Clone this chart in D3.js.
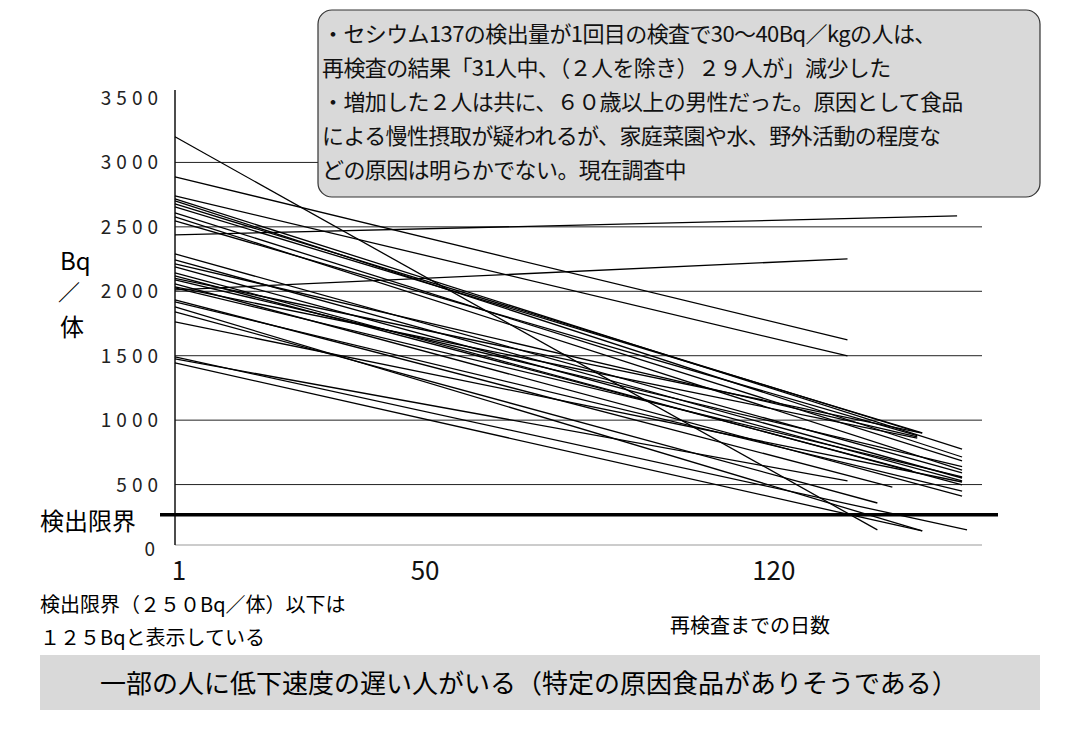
<!DOCTYPE html><html><head><meta charset="utf-8"><script src="https://cdn.jsdelivr.net/npm/d3@7"></script>
<style>body{margin:0;background:#fff}text{font-family:"Noto Sans CJK JP",sans-serif}</style></head><body>
<svg id="c" width="1081" height="756"></svg>
<script>
const startVals=[3199,2888,2741,2717,2702,2679,2655,2609,2578,2547,2438,2290,2244,2213,2189,2143,2120,2089,2057,2034,2026,2011,1933,1918,1879,1840,1762,1491,1475,1444,2100];
const endDays=[142,136,136,159,159,150,151,159,159,150,158,159,159,150,159,159,149,159,159,150,159,136,145,159,151,142,159,160,136,151,151];
const endVals=[148,1623,1498,776,714,908,901,683,613,880,2585,590,551,870,528,497,606,640,411,860,560,2252,481,450,140,357,520,148,528,140,900];
const yTicks=[0,500,1000,1500,2000,2500,3000,3500];
const xTicks=[1,50,120];
const limit=250;
const svg=d3.select("#c");
const x=d3.scaleLinear().domain([1,163]).range([175,982]);
const y=d3.scaleLinear().domain([0,3500]).range([549,98]);
// grid
svg.selectAll(".g").data(yTicks.filter(d=>d>0&&d<3500)).join("line").attr("x1",175).attr("x2",982).attr("y1",d=>y(d)).attr("y2",d=>y(d)).attr("stroke","#222").attr("stroke-width",1);
svg.append("line").attr("x1",175).attr("x2",982).attr("y1",y(0)-4).attr("y2",y(0)-4).attr("stroke","#999");
svg.append("line").attr("x1",175).attr("x2",175).attr("y1",90).attr("y2",y(0)-4).attr("stroke","#111").attr("stroke-width",1.5);
svg.selectAll(".yt").data(yTicks).join("text").attr("x",d=>d===0?160:163).attr("y",d=>y(d)+7).attr("text-anchor","end").attr("font-size",19).attr("letter-spacing",5).attr("fill","#222").text(d=>String(d));
svg.selectAll(".xt").data(xTicks).join("text").attr("x",d=>d===1?x(d)+4:x(d)+6).attr("y",580).attr("text-anchor","middle").attr("font-size",26).attr("fill","#111").text(d=>d);
// series lines
svg.selectAll(".s").data(startVals.map((v,i)=>[v,endDays[i],endVals[i]])).join("line")
 .attr("x1",x(1)).attr("y1",d=>y(d[0])).attr("x2",d=>x(d[1])).attr("y2",d=>y(d[2])).attr("stroke","#000").attr("stroke-width",1.3);
// detection limit
svg.append("line").attr("x1",160).attr("x2",998).attr("y1",y(limit)-2).attr("y2",y(limit)-2).attr("stroke","#000").attr("stroke-width",3.5);
svg.append("text").attr("x",40).attr("y",530).attr("font-size",24).text("検出限界");
svg.append("text").attr("x",60).attr("y",270).attr("font-size",24).text("Bq");
svg.append("text").attr("x",58).attr("y",300).attr("font-size",22).text("／");
svg.append("text").attr("x",60).attr("y",336).attr("font-size",24).text("体");
svg.append("text").attr("x",40).attr("y",612).attr("font-size",20).text("検出限界（２５０Bq／体）以下は");
svg.append("text").attr("x",40).attr("y",645).attr("font-size",20).text("１２５Bqと表示している");
svg.append("text").attr("x",670).attr("y",633).attr("font-size",20).text("再検査までの日数");
svg.append("rect").attr("x",40).attr("y",655).attr("width",1000).attr("height",55).attr("fill","#d9d9d9");
svg.append("text").attr("x",100).attr("y",693).attr("font-size",26).text("一部の人に低下速度の遅い人がいる（特定の原因食品がありそうである）");
// annotation box (on top)
svg.append("rect").attr("x",318).attr("y",10).attr("width",722).attr("height",187).attr("rx",14).attr("fill","#d9d9d9").attr("stroke","#333").attr("stroke-width",1.2);
const ann=["・セシウム137の検出量が1回目の検査で30〜40Bq／kgの人は、","再検査の結果「31人中、（２人を除き）２９人が」減少した","・増加した２人は共に、６０歳以上の男性だった。原因として食品","による慢性摂取が疑われるが、家庭菜園や水、野外活動の程度な","どの原因は明らかでない。現在調査中"];
ann.forEach((t,i)=>svg.append("text").attr("x",322).attr("y",42+i*34).attr("font-size",22).attr("letter-spacing",-0.6).attr("fill","#111").text(t));
</script></body></html>
